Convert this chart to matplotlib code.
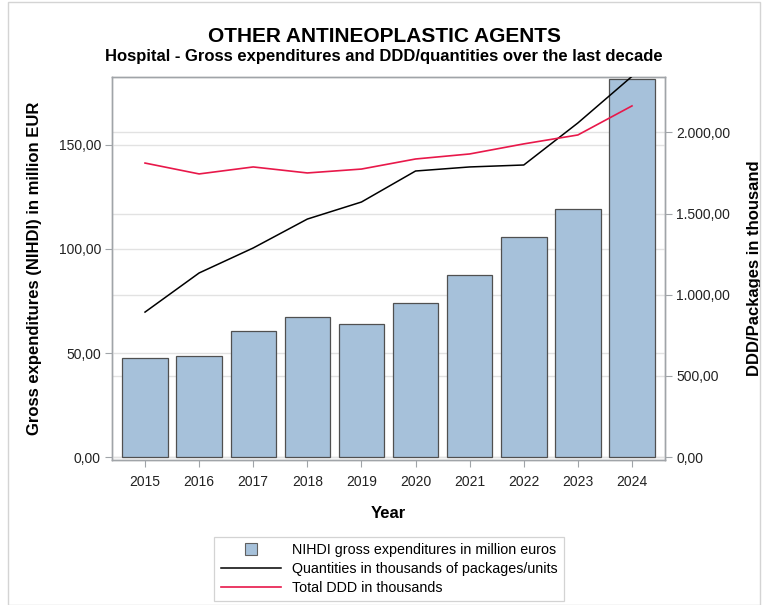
import matplotlib
matplotlib.use("Agg")
import matplotlib.pyplot as plt
from matplotlib.ticker import FuncFormatter
from matplotlib.patches import Rectangle
from matplotlib.lines import Line2D

plt.rcParams['font.family'] = ['Liberation Sans', 'DejaVu Sans']

years = [2015, 2016, 2017, 2018, 2019, 2020, 2021, 2022, 2023, 2024]
expenditures = [47.5, 48.8, 60.5, 67.2, 63.8, 74.0, 87.4, 105.8, 119.3, 181.6]
quantities = [893, 1134, 1288, 1466, 1571, 1762, 1787, 1799, 2058, 2345]
total_ddd = [1811, 1744, 1787, 1750, 1774, 1836, 1867, 1929, 1984, 2163]

left_ticks = [0, 50, 100, 150]
right_ticks = [0, 500, 1000, 1500, 2000]


def eu_fmt(v, pos=None):
    s = f"{v:,.2f}"
    return s.replace(",", "X").replace(".", ",").replace("X", ".")


bar_color = "#a6c1da"
edge_color = "#505050"
ddd_color = "#e8184a"
frame_color = "#a0a4a8"
grid_color = "#e2e2e2"

left_max = 182.6
right_max = 2341
left_min = -1.4

fig = plt.figure(figsize=(7.68, 6.05), dpi=100)
ax = fig.add_axes([112 / 768, 1 - 460 / 605, (665 - 112) / 768, (460 - 77) / 605])
ax2 = ax.twinx()

x = list(range(len(years)))
ax.bar(x, expenditures, width=0.84, color=bar_color, edgecolor=edge_color,
       linewidth=0.9, zorder=2)
ax.set_xlim(-0.61, len(years) - 1 + 0.61)
ax.set_ylim(left_min, left_max)
ax.set_yticks(left_ticks)
ax.yaxis.set_major_formatter(FuncFormatter(eu_fmt))
ax.set_xticks(x)
ax.set_xticklabels([str(y) for y in years])
ax.grid(axis='y', color=grid_color, linewidth=1.0, zorder=0)
ax.set_axisbelow(True)

ax2.set_ylim(left_min * right_max / left_max, right_max)
ax2.set_yticks(right_ticks)
ax2.yaxis.set_major_formatter(FuncFormatter(eu_fmt))
ax2.grid(axis='y', color=grid_color, linewidth=1.0, zorder=0)

# the right axes sits behind so its gridlines stay under the bars
ax.set_zorder(ax2.get_zorder() + 1)
ax.patch.set_visible(False)
ax2.patch.set_facecolor("white")

# lines use the right-axis scale, drawn on the front axes
line_tf = ax2.transData
ax.plot(x, quantities, color="black", linewidth=1.1, zorder=3, transform=line_tf)
ax.plot(x, total_ddd, color=ddd_color, linewidth=1.2, zorder=3, transform=line_tf)
ax.set_xlim(-0.61, len(years) - 1 + 0.61)
ax.set_ylim(left_min, left_max)

for a in (ax, ax2):
    for sp in a.spines.values():
        sp.set_color(frame_color)
        sp.set_linewidth(1.0)
    a.tick_params(colors="#222222", labelsize=10, length=5, width=0.8, color=frame_color)
ax.tick_params(axis='x', pad=6)
ax.tick_params(axis='y', pad=3)
ax2.tick_params(axis='y', pad=3)

ax.set_ylabel("Gross expenditures (NIHDI) in million EUR", fontsize=12, fontweight='bold', labelpad=12)
ax2.set_ylabel("DDD/Packages in thousand", fontsize=12, fontweight='bold', labelpad=12)
ax.set_xlabel("Year", fontsize=12, fontweight='bold', labelpad=12)

fig.text(0.5, 1 - 36 / 605, "OTHER ANTINEOPLASTIC AGENTS", ha='center', va='center',
         fontsize=15, fontweight='bold')
fig.text(0.5, 1 - 56 / 605, "Hospital - Gross expenditures and DDD/quantities over the last decade",
         ha='center', va='center', fontsize=12, fontweight='bold')

handles = [
    Line2D([], [], linestyle='none', marker='s', markersize=9,
           markerfacecolor=bar_color, markeredgecolor="#606060", markeredgewidth=0.8),
    Line2D([], [], color="black", linewidth=1.1),
    Line2D([], [], color=ddd_color, linewidth=1.2),
]
labels = ["NIHDI gross expenditures in million euros",
          "Quantities in thousands of packages/units",
          "Total DDD in thousands"]
leg = fig.legend(handles, labels, loc='upper center', bbox_to_anchor=(389 / 768, 1 - 537 / 605),
                 frameon=True, fancybox=False, edgecolor="#c8c8c8", fontsize=10.3,
                 handlelength=4.2, borderpad=0.45, labelspacing=0.33,
                 handletextpad=0.75, borderaxespad=0.0)
leg.get_frame().set_linewidth(0.9)

fig.patches.append(Rectangle((8 / 768, 0), 1 - 16 / 768, 1 - 2 / 605, transform=fig.transFigure,
                             fill=False, edgecolor="#d4d4d4", linewidth=1.0))

fig.savefig("out.png", dpi=100)
